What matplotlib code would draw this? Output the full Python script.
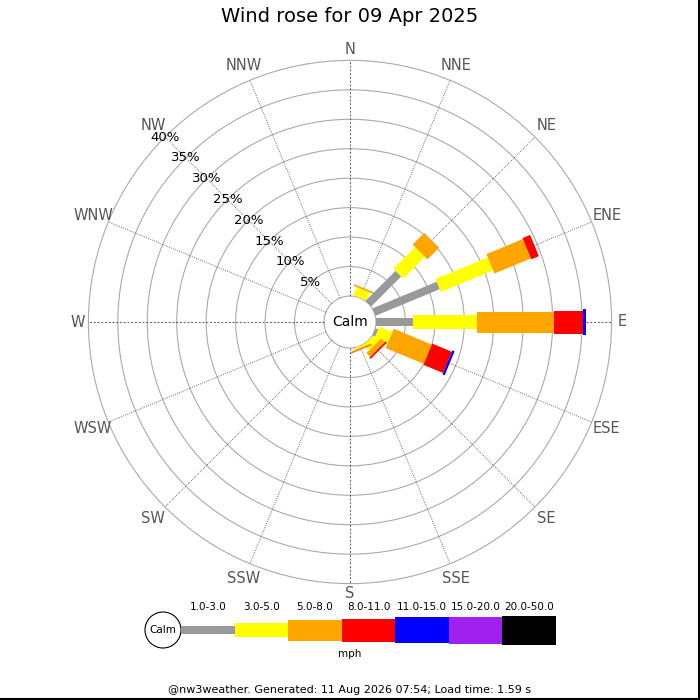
import numpy as np
import matplotlib.pyplot as plt
from matplotlib.patches import Polygon, Circle, Rectangle
from matplotlib.lines import Line2D

# wind frequencies (%) per direction and speed bin
directions = ['N', 'NNE', 'NE', 'ENE', 'E', 'ESE', 'SE', 'SSE',
              'S', 'SSW', 'SW', 'WSW', 'W', 'WNW', 'NW', 'NNW']
speed_bins = ['1.0-3.0', '3.0-5.0', '5.0-8.0', '8.0-11.0',
              '11.0-15.0', '15.0-20.0', '20.0-50.0']
bin_colors = ['#999999', '#ffff00', '#ffa500', '#ff0000',
              '#0000ff', '#a020f0', '#000000']
bin_widths = [8, 14, 21, 23, 26, 27, 29]   # px

freq = {
    'NNE': [0.0, 1.5, 0.3, 0.0, 0.0, 0.0, 0.0],
    'NE':  [7.2, 5.2, 2.8, 0.0, 0.0, 0.0, 0.0],
    'ENE': [11.8, 9.6, 6.7, 1.4, 0.0, 0.0, 0.0],
    'E':   [6.3, 10.9, 13.1, 4.8, 0.5, 0.0, 0.0],
    'ESE': [0.5, 2.4, 7.0, 3.6, 0.4, 0.0, 0.0],
    'SE':  [0.0, 1.3, 0.9, 0.3, 0.0, 0.0, 0.0],
    'SSE': [0.0, 0.3, 0.2, 0.1, 0.0, 0.0, 0.0],
}
ring_pcts = [5, 10, 15, 20, 25, 30, 35, 40]

title = 'Wind rose for 09 Apr 2025'
footer = '@nw3weather. Generated: 11 Aug 2026 07:54; Load time: 1.59 s'

CALM_R = 26.0    # px
PX_PER_PCT = 5.89
CY = 322         # centre row in the image


def rad(p):
    return CALM_R + PX_PER_PCT * p


def img(x, y):
    # image pixel -> axes coords (centre of rose at origin)
    return x - 350, CY - y


fig = plt.figure(figsize=(7, 7), dpi=100)
ax = fig.add_axes([0, 0, 1, 1])
ax.set_xlim(-350, 350)
ax.set_ylim(CY - 700, CY)
ax.set_aspect('equal')
ax.axis('off')

angles = np.deg2rad(np.arange(16) * 22.5)
r_out = rad(ring_pcts[-1])

# rings
for p in ring_pcts:
    ax.add_patch(Circle((0, 0), rad(p), fill=False, ec='#aaaaaa', lw=0.8, zorder=1))
ax.add_patch(Circle((0, 0), CALM_R, fill=False, ec='#aaaaaa', lw=0.8, zorder=1))

# spokes and direction labels
for i, (d, a) in enumerate(zip(directions, angles)):
    ux, uy = np.sin(a), np.cos(a)
    ls = (0, (2.5, 2)) if i % 4 == 0 else (0, (1, 1.5))
    ax.plot([CALM_R * ux, r_out * ux], [CALM_R * uy, r_out * uy],
            color='#444444', lw=0.6, ls=ls, zorder=1)
    rl = 272 if i % 4 == 0 else 278
    ax.text(rl * ux, rl * uy, d, ha='center', va='center',
            fontsize=10.5, color='#555555')

# percentage labels along NW spoke
a_nw = np.deg2rad(315)
for p in ring_pcts:
    ax.text(rad(p) * np.sin(a_nw), rad(p) * np.cos(a_nw), f'{p}%',
            ha='center', va='center', fontsize=9.5, color='black', zorder=3)

# bars
for d, vals in freq.items():
    a = angles[directions.index(d)]
    u = np.array([np.sin(a), np.cos(a)])
    v = np.array([np.cos(a), -np.sin(a)])
    cum = 0.0
    for val, c, w in zip(vals, bin_colors, bin_widths):
        if val <= 0:
            continue
        r0, r1 = rad(cum), rad(cum + val)
        pts = [r0 * u + w / 2 * v, r1 * u + w / 2 * v,
               r1 * u - w / 2 * v, r0 * u - w / 2 * v]
        ax.add_patch(Polygon(pts, closed=True, fc=c, ec='none', zorder=2))
        cum += val

ax.text(0, 0, 'Calm', ha='center', va='center', fontsize=10, zorder=4)

# title
ax.text(*img(350, 17), title, ha='center', va='center', fontsize=14)

# legend
lx0, lx1, ly = 181, 556, 630
seg = (lx1 - lx0) / len(speed_bins)
ax.add_patch(Circle(img(163, ly), 18, fill=False, ec='black', lw=0.8))
ax.text(*img(163, ly), 'Calm', ha='center', va='center', fontsize=7.5)
for k, (lab, c, w) in enumerate(zip(speed_bins, bin_colors, bin_widths)):
    x0 = lx0 + k * seg
    ax.add_patch(Rectangle(img(x0, ly + w / 2), seg, w, fc=c, ec='none'))
    ax.text(*img(x0 + seg / 2, 607), lab, ha='center', va='center', fontsize=7.5)
ax.text(*img(350, 654), 'mph', ha='center', va='center', fontsize=7.5)
ax.text(*img(350, 690), footer, ha='center', va='center', fontsize=8)

# frame on right and bottom edge
fig.add_artist(Line2D([0.9985, 0.9985], [0, 1], color='black', lw=1.5))
fig.add_artist(Line2D([0, 1], [0.0015, 0.0015], color='black', lw=1.5))

fig.savefig('out.png', dpi=100)
